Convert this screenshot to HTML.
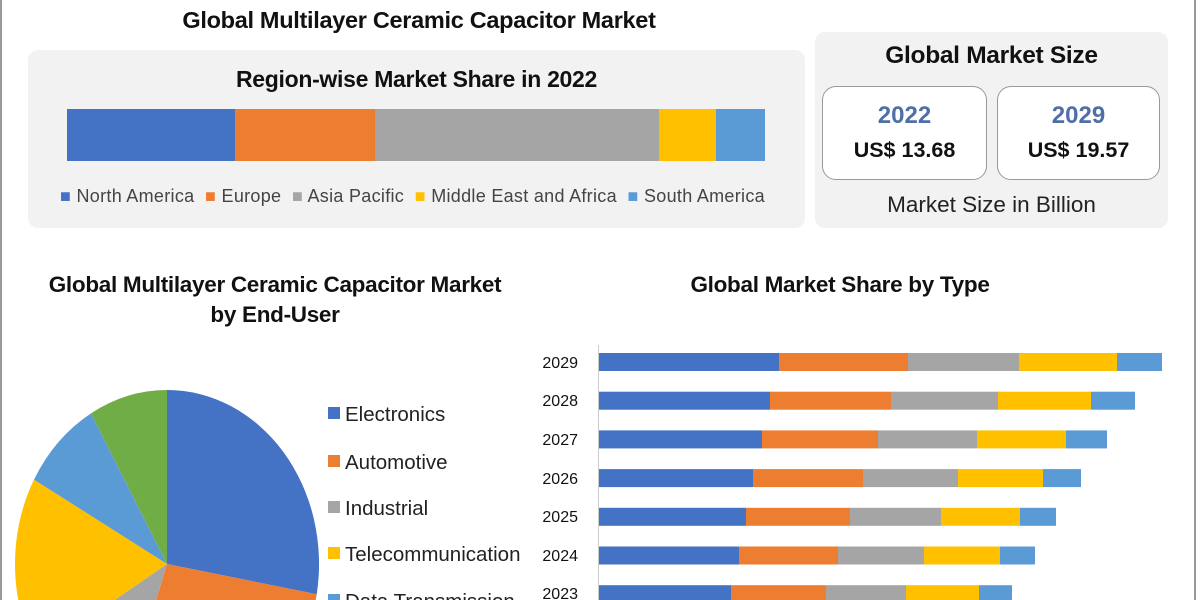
<!DOCTYPE html>
<html><head><meta charset="utf-8"><style>
body{margin:0;width:1200px;height:600px;overflow:hidden;background:#fff;font-family:"Liberation Sans",sans-serif;position:relative}
.a{position:absolute}
.t{position:absolute;white-space:nowrap;font-weight:bold;color:#111}
</style></head><body>
<div class="a" style="left:0;top:0;width:1196px;height:600px;border-left:2px solid #999;border-right:2px solid #999;box-sizing:border-box"></div>
<div class="t" style="left:0;width:838px;text-align:center;top:7px;font-size:23.5px;letter-spacing:-0.3px">Global Multilayer Ceramic Capacitor Market</div>
<div class="a" style="left:28px;top:50px;width:777px;height:178px;background:#f2f2f2;border-radius:10px"></div>
<div class="t" style="left:28px;width:777px;text-align:center;top:66px;font-size:23px;letter-spacing:-0.3px">Region-wise Market Share in 2022</div>
<div class="a" style="left:67px;top:109px;width:168px;height:52px;background:#4472c4"></div>
<div class="a" style="left:235px;top:109px;width:140px;height:52px;background:#ed7d31"></div>
<div class="a" style="left:375px;top:109px;width:284px;height:52px;background:#a5a5a5"></div>
<div class="a" style="left:659px;top:109px;width:57px;height:52px;background:#ffc000"></div>
<div class="a" style="left:716px;top:109px;width:49px;height:52px;background:#5b9bd5"></div>
<div class="a" style="left:60px;top:186px;font-size:18px;color:#444;white-space:nowrap;letter-spacing:0.3px">
<span style="color:#4472c4">■</span> North America &nbsp;<span style="color:#ed7d31">■</span> Europe &nbsp;<span style="color:#a5a5a5">■</span> Asia Pacific &nbsp;<span style="color:#ffc000">■</span> Middle East and Africa &nbsp;<span style="color:#5b9bd5">■</span> South America</div>
<div class="a" style="left:815px;top:32px;width:353px;height:196px;background:#f2f2f2;border-radius:10px"></div>
<div class="t" style="left:815px;width:353px;text-align:center;top:42px;font-size:24.5px;letter-spacing:-0.3px">Global Market Size</div>
<div class="a" style="left:822px;top:86px;width:165px;height:94px;background:#fff;border:1px solid #999;border-radius:14px;box-sizing:border-box"></div>
<div class="a" style="left:997px;top:86px;width:163px;height:94px;background:#fff;border:1px solid #999;border-radius:14px;box-sizing:border-box"></div>
<div class="t" style="left:822px;width:165px;text-align:center;top:102px;font-size:24px;color:#4f6fa8">2022</div>
<div class="t" style="left:997px;width:163px;text-align:center;top:102px;font-size:24px;color:#4f6fa8">2029</div>
<div class="t" style="left:822px;width:165px;text-align:center;top:138px;font-size:21.5px">US$ 13.68</div>
<div class="t" style="left:997px;width:163px;text-align:center;top:138px;font-size:21.5px">US$ 19.57</div>
<div class="a" style="left:815px;width:353px;text-align:center;top:192px;font-size:22.5px;color:#222">Market Size in Billion</div>
<div class="t" style="left:0;width:550px;text-align:center;top:270px;font-size:22.5px;line-height:30px;letter-spacing:-0.3px">Global Multilayer Ceramic Capacitor Market<br>by End-User</div>
<div class="t" style="left:600px;width:480px;text-align:center;top:272px;font-size:22.5px;letter-spacing:-0.3px">Global Market Share by Type</div>
<svg class="a" style="left:0;top:0" width="1200" height="600">
<g transform="translate(167,564) scale(152,174)">
<path d="M0,0L0,-1A1,1 0 0 1 0.985,0.174Z" fill="#4472c4"/>
<path d="M0,0L0.985,0.174A1,1 0 0 1 -0.326,0.946Z" fill="#ed7d31"/>
<path d="M0,0L-0.326,0.946A1,1 0 0 1 -0.857,0.515Z" fill="#a5a5a5"/>
<path d="M0,0L-0.857,0.515A1,1 0 0 1 -0.875,-0.485Z" fill="#ffc000"/>
<path d="M0,0L-0.875,-0.485A1,1 0 0 1 -0.5,-0.866Z" fill="#5b9bd5"/>
<path d="M0,0L-0.5,-0.866A1,1 0 0 1 0,-1Z" fill="#70ad47"/>
</g>
<g font-size="20.5" fill="#222" font-family="Liberation Sans">
<rect x="328" y="407" width="12" height="12" fill="#4472c4"/><text x="345" y="421">Electronics</text>
<rect x="328" y="455" width="12" height="12" fill="#ed7d31"/><text x="345" y="469">Automotive</text>
<rect x="328" y="501" width="12" height="12" fill="#a5a5a5"/><text x="345" y="515">Industrial</text>
<rect x="328" y="547" width="12" height="12" fill="#ffc000"/><text x="345" y="561">Telecommunication</text>
<rect x="328" y="594" width="12" height="12" fill="#5b9bd5"/><text x="345" y="608">Data Transmission</text>
</g>
<line x1="598.5" y1="345" x2="598.5" y2="600" stroke="#ccc"/>
<g id="bars"></g>
<g font-size="16" fill="#111" text-anchor="end" font-family="Liberation Sans">
<text x="578" y="368">2029</text><text x="578" y="406">2028</text><text x="578" y="445">2027</text><text x="578" y="484">2026</text><text x="578" y="522">2025</text><text x="578" y="561">2024</text><text x="578" y="599">2023</text>
</g>
</svg>
<script>
var d=[[779,908,1019,1117,1162],[770,891,998,1091,1135],[762,878,977,1066,1107],[753,863,958,1043,1081],[746,850,941,1020,1056],[739,838,924,1000,1035],[731,826,906,979,1012]];
var c=["#4472c4","#ed7d31","#a5a5a5","#ffc000","#5b9bd5"],s="";
d.forEach(function(r,i){var y=353+i*38.7,x=599;r.forEach(function(e,j){s+='<rect x="'+x+'" y="'+y+'" width="'+(e-x)+'" height="18" fill="'+c[j]+'"/>';x=e;});});
document.getElementById("bars").innerHTML=s;
</script>
</body></html>
